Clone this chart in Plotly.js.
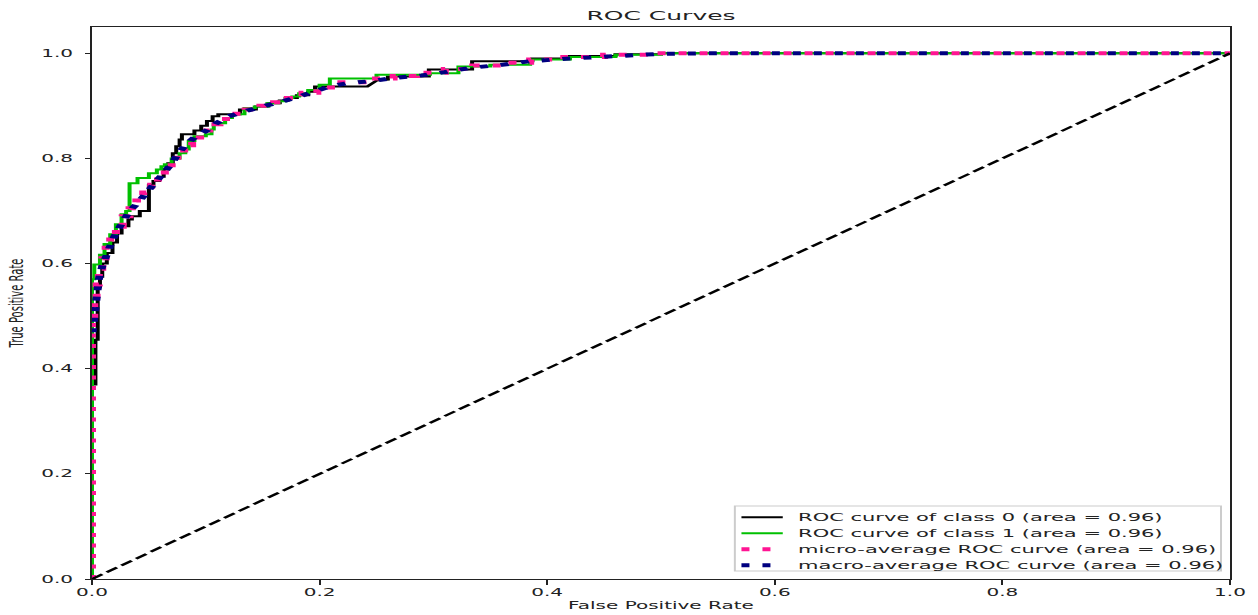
<!DOCTYPE html>
<html>
<head>
<meta charset="utf-8">
<script src="https://cdn.plot.ly/plotly-3.0.1.min.js"></script>
<style>
  html, body { margin: 0; padding: 0; background: #fff; overflow: hidden; }
  #wrap { width: 1258px; height: 615px; overflow: hidden; }
  /* figure is laid out narrow and widened horizontally */
  #chart { width: 629px; height: 615px; transform: scaleX(2); transform-origin: 0 0; }
</style>
</head>
<body>
<div id="wrap"><div id="chart"></div></div>
<script>
// ROC curve of class 0 (stair-step corners)
const class0Fpr = [0, 0, 0.003, 0.003, 0.005, 0.005, 0.007, 0.007, 0.009, 0.009, 0.013, 0.013, 0.018, 0.018,
  0.022, 0.022, 0.026, 0.026, 0.032, 0.032, 0.035, 0.035, 0.042, 0.042, 0.050, 0.050, 0.054, 0.054,
  0.059, 0.059, 0.063, 0.063, 0.067, 0.067, 0.071, 0.071, 0.074, 0.074, 0.077, 0.077, 0.079, 0.079,
  0.090, 0.090, 0.096, 0.096, 0.101, 0.101, 0.106, 0.106, 0.111, 0.111, 0.130, 0.130, 0.144, 0.144,
  0.155, 0.155, 0.165, 0.165, 0.172, 0.172, 0.180, 0.180, 0.190, 0.190, 0.196, 0.196, 0.242, 0.250,
  0.260, 0.260, 0.296, 0.296, 0.334, 0.334, 0.387, 0.387, 0.420, 0.420, 0.460, 0.460, 0.500, 0.500, 1.0];
const class0Tpr = [0, 0.37, 0.37, 0.455, 0.455, 0.555, 0.555, 0.575, 0.575, 0.600, 0.600, 0.620, 0.620, 0.640,
  0.640, 0.657, 0.657, 0.671, 0.671, 0.684, 0.684, 0.690, 0.690, 0.700, 0.700, 0.750, 0.750, 0.757,
  0.757, 0.765, 0.765, 0.779, 0.779, 0.791, 0.791, 0.810, 0.810, 0.823, 0.823, 0.836, 0.836, 0.846,
  0.846, 0.853, 0.853, 0.862, 0.862, 0.871, 0.871, 0.880, 0.880, 0.884, 0.884, 0.893, 0.893, 0.899,
  0.899, 0.905, 0.905, 0.910, 0.910, 0.915, 0.915, 0.920, 0.920, 0.927, 0.927, 0.937, 0.937, 0.948,
  0.950, 0.956, 0.956, 0.969, 0.969, 0.985, 0.985, 0.990, 0.990, 0.995, 0.995, 0.998, 0.998, 1.0, 1.0];

// ROC curve of class 1
const class1Fpr = [0, 0, 0.002, 0.002, 0.007, 0.007, 0.011, 0.011, 0.016, 0.016, 0.021, 0.021, 0.026, 0.026,
  0.030, 0.030, 0.033, 0.033, 0.040, 0.040, 0.050, 0.050, 0.057, 0.057, 0.061, 0.061, 0.064, 0.064,
  0.070, 0.070, 0.077, 0.077, 0.082, 0.082, 0.085, 0.085, 0.090, 0.090, 0.100, 0.100, 0.105, 0.105,
  0.107, 0.107, 0.112, 0.112, 0.117, 0.117, 0.123, 0.123, 0.134, 0.134, 0.143, 0.143, 0.154, 0.154,
  0.164, 0.164, 0.170, 0.170, 0.176, 0.176, 0.182, 0.182, 0.190, 0.190, 0.200, 0.200, 0.209, 0.209,
  0.250, 0.250, 0.297, 0.297, 0.322, 0.322, 0.350, 0.350, 0.385, 0.385, 0.420, 0.420, 0.460, 0.460,
  0.500, 0.500, 1.0];
const class1Tpr = [0, 0.570, 0.570, 0.598, 0.598, 0.617, 0.617, 0.637, 0.637, 0.656, 0.656, 0.675, 0.675, 0.694,
  0.694, 0.700, 0.700, 0.753, 0.753, 0.763, 0.763, 0.772, 0.772, 0.779, 0.779, 0.785, 0.785, 0.789,
  0.789, 0.800, 0.800, 0.810, 0.810, 0.817, 0.817, 0.833, 0.833, 0.842, 0.842, 0.846, 0.846, 0.855,
  0.855, 0.865, 0.865, 0.867, 0.867, 0.877, 0.877, 0.884, 0.884, 0.896, 0.896, 0.899, 0.899, 0.905,
  0.905, 0.909, 0.909, 0.915, 0.915, 0.918, 0.918, 0.924, 0.924, 0.930, 0.930, 0.940, 0.940, 0.952,
  0.952, 0.959, 0.959, 0.962, 0.962, 0.975, 0.975, 0.978, 0.978, 0.988, 0.988, 0.993, 0.993, 0.997,
  0.997, 1.0, 1.0];

// micro-average ROC curve
const microFpr = [0, 0, 0.002, 0.002, 0.004, 0.004, 0.006, 0.006, 0.009, 0.009, 0.012, 0.012, 0.016, 0.016,
  0.021, 0.021, 0.027, 0.027, 0.033, 0.033, 0.039, 0.039, 0.045, 0.045, 0.052, 0.052, 0.058, 0.058,
  0.064, 0.064, 0.070, 0.070, 0.075, 0.075, 0.081, 0.081, 0.088, 0.088, 0.095, 0.095, 0.103, 0.103,
  0.112, 0.112, 0.122, 0.122, 0.135, 0.135, 0.148, 0.148, 0.160, 0.160, 0.172, 0.172, 0.185, 0.185,
  0.198, 0.198, 0.215, 0.215, 0.245, 0.245, 0.265, 0.265, 0.285, 0.285, 0.310, 0.310, 0.335, 0.335,
  0.360, 0.360, 0.385, 0.385, 0.415, 0.415, 0.450, 0.450, 0.490, 0.490, 1.0];
const microTpr = [0, 0.500, 0.500, 0.530, 0.530, 0.560, 0.560, 0.590, 0.590, 0.610, 0.610, 0.630, 0.630, 0.650,
  0.650, 0.670, 0.670, 0.690, 0.690, 0.705, 0.705, 0.720, 0.720, 0.735, 0.735, 0.750, 0.750, 0.765,
  0.765, 0.780, 0.780, 0.795, 0.795, 0.810, 0.810, 0.825, 0.825, 0.840, 0.840, 0.853, 0.853, 0.865,
  0.865, 0.875, 0.875, 0.885, 0.885, 0.893, 0.893, 0.900, 0.900, 0.907, 0.907, 0.915, 0.915, 0.925,
  0.925, 0.935, 0.935, 0.945, 0.945, 0.952, 0.952, 0.957, 0.957, 0.963, 0.963, 0.970, 0.970, 0.977,
  0.977, 0.982, 0.982, 0.988, 0.988, 0.993, 0.993, 0.997, 0.997, 1.0, 1.0];

// macro-average ROC curve
const macroFpr = [0, 0.002, 0.004, 0.006, 0.009, 0.013, 0.018, 0.023, 0.028, 0.033, 0.040, 0.046, 0.052, 0.058,
  0.064, 0.070, 0.076, 0.082, 0.090, 0.100, 0.110, 0.120, 0.135, 0.150, 0.165, 0.180, 0.195, 0.210,
  0.225, 0.245, 0.265, 0.290, 0.310, 0.335, 0.360, 0.385, 0.420, 0.460, 0.500, 0.550, 1.0];
const macroTpr = [0.46, 0.50, 0.54, 0.57, 0.595, 0.62, 0.645, 0.665, 0.68, 0.70, 0.715, 0.73, 0.745, 0.76,
  0.775, 0.79, 0.81, 0.825, 0.84, 0.852, 0.868, 0.88, 0.89, 0.898, 0.906, 0.916, 0.927, 0.938,
  0.943, 0.947, 0.953, 0.958, 0.964, 0.973, 0.978, 0.985, 0.99, 0.995, 0.999, 1.0, 1.0];

// chance line
const chanceX = [0, 1];
const chanceY = [0, 1];

const labels = [
  'ROC curve of class 0 (area = 0.96)',
  'ROC curve of class 1 (area = 0.96)',
  'micro-average ROC curve (area = 0.96)',
  'macro-average ROC curve (area = 0.96)'
];

const FONT = 'DejaVu Sans, Liberation Sans, sans-serif';
const INK = '#222222';

const styles = [
  { color: '#000000', width: 2, dash: 'solid' },
  { color: '#00c000', width: 2, dash: 'solid' },
  { color: '#ff1493', width: 4, dash: '4px,6.5px' },
  { color: '#000080', width: 4, dash: '0px,5px,4px,1.5px' }
];

const traces = [
  { x: class0Fpr, y: class0Tpr, mode: 'lines', name: labels[0], line: styles[0] },
  { x: class1Fpr, y: class1Tpr, mode: 'lines', name: labels[1], line: styles[1] },
  { x: microFpr, y: microTpr, mode: 'lines', name: labels[2], line: styles[2] },
  { x: macroFpr, y: macroTpr, mode: 'lines', name: labels[3], line: styles[3] },
  { x: chanceX, y: chanceY, mode: 'lines', name: 'chance',
    line: { color: '#000000', width: 2, dash: '7px,3px' } }
];

// legend box in the lower right corner, drawn as paper-referenced shapes and text
const legendBox = { x0: 0.5649, x1: 0.9921, y0: 0.0145, y1: 0.1322 };
const legendRows = [0.1118, 0.0828, 0.0538, 0.0248];
const sampleX = [0.5707, 0.6070];
const legendTextX = 0.6164;

const shapes = [{
  type: 'rect', xref: 'paper', yref: 'paper', layer: 'above',
  x0: legendBox.x0, x1: legendBox.x1, y0: legendBox.y0, y1: legendBox.y1,
  fillcolor: 'rgba(255,255,255,0.85)',
  line: { color: '#cccccc', width: 1 }
}];
const annotations = [];
labels.forEach((lab, i) => {
  const st = styles[i];
  shapes.push({
    type: 'line', xref: 'paper', yref: 'paper', layer: 'above',
    x0: sampleX[0], x1: sampleX[1], y0: legendRows[i], y1: legendRows[i],
    line: { color: st.color, width: st.width, dash: i >= 2 ? '4px,6.5px' : 'solid' }
  });
  annotations.push({
    xref: 'paper', yref: 'paper', x: legendTextX, y: legendRows[i],
    xanchor: 'left', yanchor: 'middle', showarrow: false,
    text: lab, font: { family: FONT, size: 10.5, color: INK }
  });
});

const tickVals = [0, 0.2, 0.4, 0.6, 0.8, 1.0];

const layout = {
  width: 629,
  height: 615,
  margin: { l: 45.5, r: 13.5, t: 27, b: 36, pad: 0 },
  paper_bgcolor: '#ffffff',
  plot_bgcolor: '#ffffff',
  font: { family: FONT, size: 10, color: INK },
  showlegend: false,
  hovermode: false,
  title: {
    text: 'ROC Curves',
    font: { family: FONT, size: 12.5, color: INK },
    x: 0.5, xref: 'paper', xanchor: 'center',
    y: 1 - 16 / 615, yref: 'container', yanchor: 'middle'
  },
  xaxis: {
    range: [0, 1],
    tickvals: tickVals,
    tickformat: '.1f',
    ticks: 'outside', ticklen: 4.5, tickwidth: 1, tickcolor: INK,
    showline: true, mirror: true, linecolor: INK, linewidth: 1,
    showgrid: false, zeroline: false,
    tickfont: { family: FONT, size: 10, color: INK },
    title: { text: 'False Positive Rate', font: { family: FONT, size: 10, color: INK }, standoff: 4 }
  },
  yaxis: {
    range: [0, 1.05],
    tickvals: tickVals,
    tickformat: '.1f',
    ticks: 'outside', ticklen: 2.5, tickwidth: 1, tickcolor: INK,
    showline: true, mirror: true, linecolor: INK, linewidth: 1,
    showgrid: false, zeroline: false,
    ticklabelstandoff: 4,
    tickfont: { family: FONT, size: 10, color: INK },
    title: { text: 'True Positive Rate', font: { family: FONT, size: 10, color: INK }, standoff: 6 }
  },
  shapes: shapes,
  annotations: annotations
};

Plotly.newPlot('chart', traces, layout, { staticPlot: true, displayModeBar: false });
</script>
</body>
</html>
